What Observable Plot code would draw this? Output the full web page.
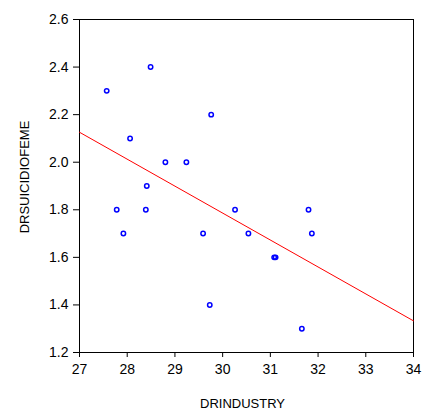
<!DOCTYPE html>
<html>
<head>
<meta charset="utf-8">
<script src="https://cdn.jsdelivr.net/npm/d3@7"></script>
<script src="https://cdn.jsdelivr.net/npm/@observablehq/plot@0.6"></script>
<style>
  html, body { margin: 0; padding: 0; background: #fff; }
  #chart svg { display: block; }
</style>
</head>
<body>
<div id="chart"></div>
<script>
// Observed points
const drindustry = [28.49, 27.57, 29.76, 28.06, 28.80, 29.24, 28.41, 27.78, 28.39, 27.92,
                    29.59, 30.26, 30.54, 31.08, 31.11, 31.80, 31.87, 29.73, 31.66];
const drsuicidiofeme = [2.4, 2.3, 2.2, 2.1, 2.0, 2.0, 1.9, 1.8, 1.8, 1.7,
                        1.7, 1.8, 1.7, 1.6, 1.6, 1.8, 1.7, 1.4, 1.3];
// Fitted line endpoints
const fitX = [27, 34];
const fitY = [2.126, 1.333];
// Ticks and titles
const xTicks = [27, 28, 29, 30, 31, 32, 33, 34];
const yTicks = [1.2, 1.4, 1.6, 1.8, 2.0, 2.2, 2.4, 2.6];
const xTitle = ["DRINDUSTRY"];
const yTitle = ["DRSUICIDIOFEME"];

const points = drindustry.map((x, i) => ({x, y: drsuicidiofeme[i]}));
const fit = fitX.map((x, i) => ({x, y: fitY[i]}));

const chart = Plot.plot({
  width: 423,
  height: 412,
  marginLeft: 79,
  marginRight: 10,
  marginTop: 19,
  marginBottom: 60,
  style: {fontFamily: "'Liberation Sans', Arial, sans-serif", fontSize: "14px", color: "#000", background: "#fff", overflow: "hidden"},
  x: {domain: [27, 34]},
  y: {domain: [1.2, 2.6]},
  marks: [
    Plot.frame({stroke: "#000", strokeWidth: 1}),
    Plot.axisX({ticks: xTicks, tickSize: 5, tickPadding: 7, tickFormat: d3.format("d"), label: null, fontSize: 14}),
    Plot.axisY({ticks: yTicks, tickSize: 6, tickPadding: 5, tickFormat: d3.format(".1f"), label: null, fontSize: 14}),
    Plot.text(xTitle, {frameAnchor: "bottom", lineAnchor: "top", dy: 46, dx: -4, fontSize: 13, fill: "#000"}),
    Plot.text(yTitle, {frameAnchor: "left", textAnchor: "middle", lineAnchor: "middle", rotate: -90, dx: -55, dy: -9, fontSize: 13, fill: "#000"}),
    Plot.line(fit, {x: "x", y: "y", stroke: "#ff0000", strokeWidth: 1}),
    Plot.dot(points, {x: "x", y: "y", r: 2.2, stroke: "#0000ff", strokeWidth: 1.5, fill: "none"})
  ]
});
document.getElementById("chart").appendChild(chart);
</script>
</body>
</html>
